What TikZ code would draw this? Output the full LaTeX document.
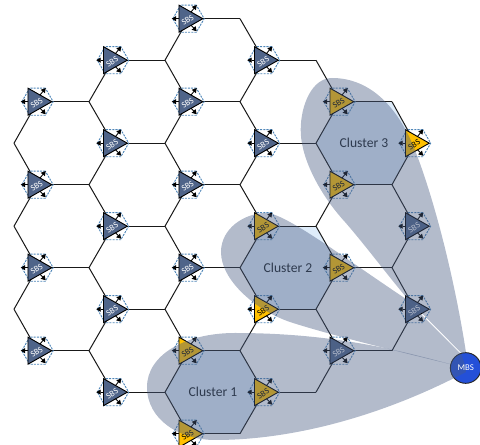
\documentclass[tikz,border=0pt]{standalone}
\usepackage{fontspec}
\setmainfont{Carlito}
\usetikzlibrary{shapes.geometric,arrows.meta}
\definecolor{sbsblue}{HTML}{4F6489}
\definecolor{sbsgold}{HTML}{FFC000}
\definecolor{sbsdash}{HTML}{4F86B8}
\definecolor{hexfill}{HTML}{DEECFA}
\definecolor{blob}{HTML}{4A5D83}
\definecolor{mbsblue}{HTML}{2450D8}
\definecolor{labeltxt}{HTML}{2E3A4E}
\tikzset{
  gridline/.style={line width=0.75pt,black!90},
  sbshex/.style={regular polygon,regular polygon sides=6,minimum size=23.5pt,inner sep=0pt,draw=sbsdash,dash pattern=on 1.6pt off 0.8pt,line width=0.7pt},
  sbstri/.style={draw=black,line width=0.7pt,line join=miter},
  sbsarrow/.style={line width=0.65pt,black,-{Triangle[length=3.4pt,width=3.8pt]}},
  sbstext/.style={font=\fontsize{6.4}{7}\selectfont,rotate=33,inner sep=0pt},
  cellfill/.style={fill=hexfill,draw=none},
  cluster/.style={fill=blob,fill opacity=0.42,draw=none},
  clusterlabel/.style={font=\fontsize{10.2}{12}\selectfont,text=labeltxt,inner sep=0pt},
  mbsnode/.style={circle,fill=mbsblue,draw=black!85,line width=0.7pt,minimum size=23pt,inner sep=0pt}
}
\newcommand{\sbsplace}[4]{% col/row/fill/text
  \pgfmathsetmacro{\cx}{37.5+75.5*#1}
  \pgfmathsetmacro{\cy}{18.7+41.5*#2}
  \begin{scope}[shift={(\cx,\cy)}]
    \node[sbshex] (s#1r#2) at (0,0) {};
    \draw[sbsarrow] (-9.5,0) -- (-16.8,0);
    \draw[sbsarrow] (1.5,-5.4) -- (8.2,-13.7);
    \draw[sbsarrow] (1.5,5.4) -- (8.2,12.6);
    \draw[sbstri,fill=#3] (-9.5,-13.5) -- (14.3,0) -- (-9.5,13.5) -- cycle;
    \node[sbstext,text=#4] (t#1r#2) at (-0.8,1.6) {SBS};
  \end{scope}
}
\begin{document}
\begin{tikzpicture}[x=0.75pt,y=-0.75pt]
\useasboundingbox (0,0) rectangle (480,445);
% cells of the three clusters
\fill[cellfill] (165,392.2) -- (188.5,350.7) -- (240,350.7) -- (264,392.2) -- (240,433.7) -- (188.5,433.7) -- cycle;
\fill[cellfill] (240,267.7) -- (264,226.2) -- (316,226.2) -- (339.5,267.7) -- (316,309.2) -- (264,309.2) -- cycle;
\fill[cellfill] (316,143.2) -- (339.5,101.7) -- (392,101.7) -- (415,143.2) -- (392,184.7) -- (339.5,184.7) -- cycle;
% junctions
\foreach \n/\x/\k in {a/14/3,a/14/5,a/14/7,
  b/89/2,b/89/4,b/89/6,b/89/8,
  c/165/1,c/165/3,c/165/5,c/165/7,c/165/9,
  d/240/0,d/240/2,d/240/4,d/240/6,d/240/8,d/240/10,
  e/316/1,e/316/3,e/316/5,e/316/7,e/316/9,
  f/392/2,f/392/4,f/392/6,f/392/8}{
  \pgfmathsetmacro{\jy}{18.7+41.5*\k}
  \coordinate (\n\k) at (\x,\jy);
}
% station centres
\foreach \c/\k in {0/2,0/4,0/6,0/8,1/1,1/3,1/5,1/7,1/9,2/0,2/2,2/4,2/6,2/8,2/10,
  3/1,3/3,3/5,3/7,3/9,4/2,4/4,4/6,4/8,5/3,5/5,5/7}{
  \coordinate (p\c r\k) at ({37.5+75.5*\c},{18.7+41.5*\k});
}
% grid lines, from junction to station centre
\foreach \j/\s in {a3/0r2,a3/0r4,a5/0r4,a5/0r6,a7/0r6,a7/0r8,
  b2/0r2,b2/1r1,b2/1r3,b4/0r4,b4/1r3,b4/1r5,b6/0r6,b6/1r5,b6/1r7,b8/0r8,b8/1r7,b8/1r9,
  c1/1r1,c1/2r0,c1/2r2,c3/1r3,c3/2r2,c3/2r4,c5/1r5,c5/2r4,c5/2r6,c7/1r7,c7/2r6,c7/2r8,c9/1r9,c9/2r8,c9/2r10,
  d0/2r0,d0/3r1,d2/2r2,d2/3r1,d2/3r3,d4/2r4,d4/3r3,d4/3r5,d6/2r6,d6/3r5,d6/3r7,d8/2r8,d8/3r7,d8/3r9,d10/2r10,d10/3r9,
  e1/3r1,e1/4r2,e3/3r3,e3/4r2,e3/4r4,e5/3r5,e5/4r4,e5/4r6,e7/3r7,e7/4r6,e7/4r8,e9/3r9,e9/4r8,
  f2/4r2,f2/5r3,f4/4r4,f4/5r3,f4/5r5,f6/4r6,f6/5r5,f6/5r7,f8/4r8,f8/5r7}{
  \draw[gridline] (\j) -- (p\s);
}
% stations
\foreach \c/\k/\f/\t in {
  0/2/sbsblue/white,0/4/sbsblue/white,0/6/sbsblue/white,0/8/sbsblue/white,
  1/1/sbsblue/white,1/3/sbsblue/white,1/5/sbsblue/white,1/7/sbsblue/white,1/9/sbsblue/white,
  2/0/sbsblue/white,2/2/sbsblue/white,2/4/sbsblue/white,2/6/sbsblue/white,2/8/sbsgold/black,2/10/sbsgold/black,
  3/1/sbsblue/white,3/3/sbsblue/white,3/5/sbsgold/black,3/7/sbsgold/black,3/9/sbsgold/black,
  4/2/sbsgold/black,4/4/sbsgold/black,4/6/sbsgold/black,4/8/sbsblue/white,
  5/3/sbsgold/black,5/5/sbsblue/white,5/7/sbsblue/white}{
  \sbsplace{\c}{\k}{\f}{\t}
}
% macro station
\node[mbsnode] (mbs) at (465.7,368) {};
% cluster shapes, laid over everything
\fill[cluster] (466,352.5) .. controls (458,300) and (440,215) .. (415,150)
  .. controls (395,100) and (365,78) .. (332,78)
  .. controls (312,78) and (300.7,105) .. (300.7,130)
  .. controls (300.7,160) and (322,197) .. (345,222)
  .. controls (365,245) and (385,272) .. (407,298.2)
  -- (462,353.6) -- cycle;
\fill[cluster] (266,213) .. controls (285,213) and (340,255) .. (406,299)
  -- (461.5,354.6)
  -- (466,368) .. controls (400,352) and (330,335) .. (290,322)
  .. controls (255,310) and (221,280) .. (221,252)
  .. controls (221,228) and (245,213) .. (266,213) -- cycle;
\fill[cluster] (466,368) .. controls (420,357) and (350,333) .. (235,333)
  .. controls (185,333) and (147,355) .. (147,387)
  .. controls (147,420) and (180,440) .. (215,440)
  .. controls (300,440) and (390,412) .. (466,372) -- cycle;
\node[text=white,font=\fontsize{6.6}{8}\selectfont,inner sep=0pt] (mbstxt) at (mbs) {MBS};
\node[clusterlabel] (c1) at (213,392.2) {Cluster 1};
\node[clusterlabel] (c2) at (288,267.7) {Cluster 2};
\node[clusterlabel] (c3) at (364,143.2) {Cluster 3};
\end{tikzpicture}
\end{document}
